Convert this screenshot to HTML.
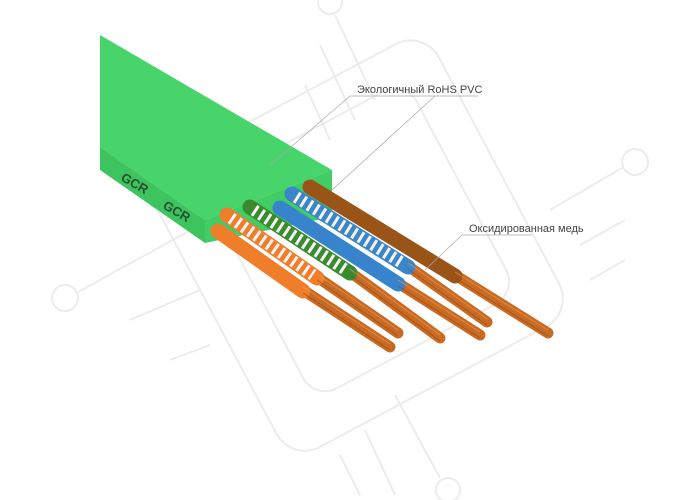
<!DOCTYPE html>
<html><head><meta charset="utf-8"><style>html,body{margin:0;padding:0;background:#fff;}svg{display:block}</style></head><body>
<svg width="700" height="500" viewBox="0 0 700 500" xmlns="http://www.w3.org/2000/svg">
<g fill="none" stroke="#ececec" stroke-width="2">
<rect x="200" y="85" width="320" height="320" rx="32" transform="rotate(-28 360 250)"/>
<rect x="245" y="120" width="230" height="240" rx="25" transform="rotate(-28 360 240)"/>
<circle cx="65" cy="298" r="13"/><circle cx="635" cy="162" r="13"/><circle cx="330" cy="2" r="12"/><circle cx="448" cy="490" r="12"/>
<line x1="78" y1="292" x2="200" y2="225"/><line x1="130" y1="320" x2="200" y2="290"/><line x1="170" y1="360" x2="210" y2="345"/>
<line x1="622" y1="168" x2="550" y2="210"/><line x1="625" y1="220" x2="580" y2="245"/><line x1="625" y1="260" x2="590" y2="280"/>
<line x1="335" y1="15" x2="375" y2="100"/><line x1="320" y1="45" x2="355" y2="120"/><line x1="305" y1="85" x2="330" y2="140"/>
<line x1="440" y1="478" x2="395" y2="395"/><line x1="395" y1="495" x2="365" y2="430"/><line x1="360" y1="495" x2="340" y2="455"/>
</g>
<polygon points="100,35 332,170 205,220 100,147" fill="#47d46b"/>
<polygon points="100,147 205,220 205,243 100,170" fill="#3dc45f"/>
<polygon points="205,220 332,170 332,217 205,243" fill="#42cc65"/>
<g fill="#24502f" font-family="Liberation Sans, sans-serif" font-weight="bold" font-size="13">
<text x="120" y="180" transform="rotate(30 120 180)">GCR</text>
<text x="162" y="208" transform="rotate(30 162 208)">GCR</text>
</g>
<g>
<line x1="455" y1="275" x2="548" y2="333" stroke="#c86a22" stroke-width="11" stroke-linecap="round"/>
<line x1="310" y1="187" x2="455" y2="276" stroke="#9a5418" stroke-width="15" stroke-linecap="round"/>
<line x1="408" y1="266" x2="487" y2="322" stroke="#c86a22" stroke-width="11" stroke-linecap="round"/>
<line x1="292" y1="194" x2="408" y2="267" stroke="#3a86c8" stroke-width="15" stroke-linecap="round"/>
<line x1="296" y1="197" x2="404" y2="264" stroke="#f4f4f4" stroke-width="12" stroke-dasharray="3 4.5"/>
<line x1="398" y1="283" x2="480" y2="335" stroke="#c86a22" stroke-width="11" stroke-linecap="round"/>
<line x1="280" y1="208" x2="398" y2="284" stroke="#3784cc" stroke-width="15" stroke-linecap="round"/>
<line x1="350" y1="272" x2="440" y2="338" stroke="#c86a22" stroke-width="11" stroke-linecap="round"/>
<line x1="250" y1="207" x2="350" y2="273" stroke="#3a8a2e" stroke-width="15" stroke-linecap="round"/>
<line x1="254" y1="210" x2="346" y2="270" stroke="#f4f4f4" stroke-width="12" stroke-dasharray="3 4.5"/>
<line x1="317" y1="277" x2="398" y2="333" stroke="#c86a22" stroke-width="11" stroke-linecap="round"/>
<line x1="227" y1="215" x2="317" y2="278" stroke="#f07d2a" stroke-width="15" stroke-linecap="round"/>
<line x1="231" y1="218" x2="313" y2="275" stroke="#f4f4f4" stroke-width="12" stroke-dasharray="3 4.5"/>
<line x1="303" y1="290" x2="390" y2="347" stroke="#c86a22" stroke-width="11" stroke-linecap="round"/>
<line x1="218" y1="231" x2="303" y2="291" stroke="#f07d2a" stroke-width="15" stroke-linecap="round"/>
</g>
<g stroke="#8a3e10" stroke-width="1" opacity="0.5">
<line x1="455" y1="278" x2="548" y2="336"/><line x1="408" y1="269" x2="487" y2="325"/><line x1="398" y1="286" x2="480" y2="338"/>
<line x1="350" y1="275" x2="440" y2="341"/><line x1="317" y1="280" x2="398" y2="336"/><line x1="303" y1="293" x2="390" y2="350"/>
</g>
<g stroke="#f0a060" stroke-width="1" opacity="0.6">
<line x1="455" y1="272" x2="548" y2="330"/><line x1="408" y1="263" x2="487" y2="319"/><line x1="398" y1="280" x2="480" y2="332"/>
<line x1="350" y1="269" x2="440" y2="335"/><line x1="317" y1="274" x2="398" y2="330"/><line x1="303" y1="287" x2="390" y2="344"/>
</g>
<g stroke="#aaa" stroke-width="0.7" fill="none">
<line x1="350" y1="96" x2="478" y2="96"/>
<line x1="350" y1="96" x2="270" y2="165"/>
<line x1="435" y1="96" x2="332" y2="190"/>
<line x1="462" y1="235" x2="532" y2="235"/>
<line x1="462" y1="235" x2="425" y2="270"/>
</g>
<g fill="#444" font-family="Liberation Sans, sans-serif" font-size="11">
<text x="357" y="93">Экологичный RoHS PVC</text>
<text x="469" y="232">Оксидированная медь</text>
</g>
</svg>
</body></html>
